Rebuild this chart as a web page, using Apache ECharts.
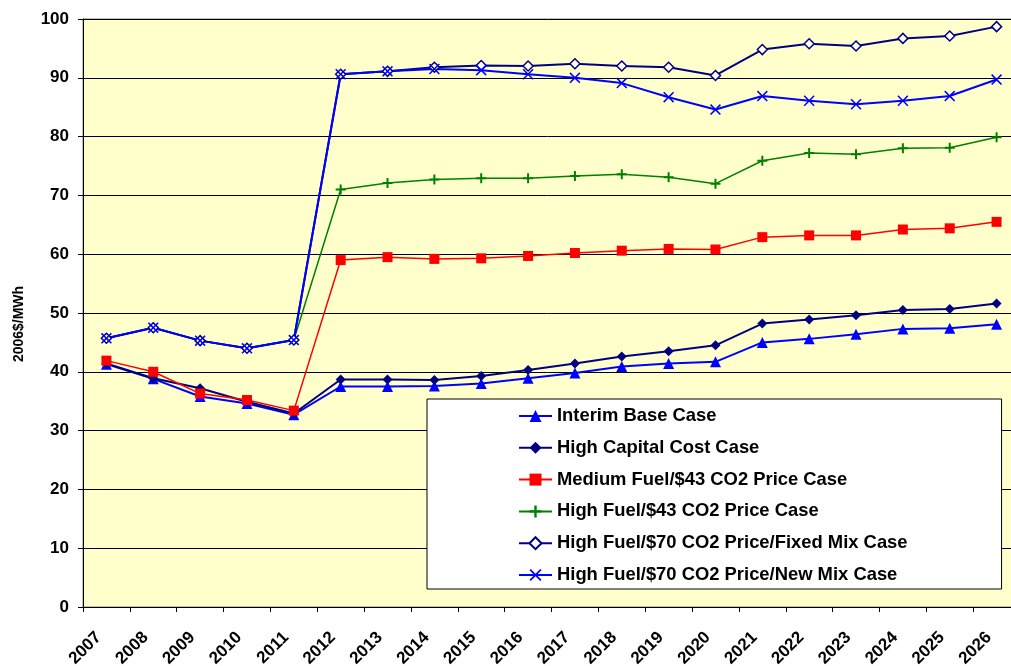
<!DOCTYPE html>
<html>
<head>
<meta charset="utf-8">
<script src="https://cdn.jsdelivr.net/npm/echarts@6/dist/echarts.min.js"></script>
<style>
html,body{margin:0;padding:0;background:#fff;}
#chart{width:1011px;height:666px;}
</style>
</head>
<body>
<div id="chart"></div>
<script>
var categories = ['2007','2008','2009','2010','2011','2012','2013','2014','2015','2016','2017','2018','2019','2020','2021','2022','2023','2024','2025','2026'];
var yTicks = [0,10,20,30,40,50,60,70,80,90,100];

var interimBase = [41.3,38.8,35.8,34.6,32.7,37.5,37.5,37.6,38.0,38.9,39.8,40.9,41.4,41.7,45.0,45.6,46.4,47.3,47.4,48.1];
var highCapital = [41.4,38.9,37.2,34.9,32.9,38.7,38.7,38.6,39.3,40.3,41.4,42.6,43.5,44.5,48.2,48.9,49.6,50.5,50.7,51.6];
var mediumFuel43 = [41.9,40.0,36.3,35.2,33.4,59.0,59.5,59.2,59.3,59.7,60.2,60.6,60.9,60.8,62.9,63.2,63.2,64.2,64.4,65.5];
var highFuel43 = [45.7,47.5,45.3,44.0,45.4,71.0,72.1,72.7,72.9,72.9,73.3,73.6,73.1,72.0,75.9,77.2,77.0,78.0,78.1,79.9];
var highFuel70Fixed = [45.7,47.5,45.3,44.0,45.4,90.6,91.1,91.8,92.1,92.0,92.4,92.0,91.8,90.4,94.8,95.8,95.4,96.7,97.1,98.7];
var highFuel70New = [45.7,47.5,45.3,44.0,45.4,90.6,91.1,91.5,91.3,90.6,90.0,89.1,86.7,84.6,86.9,86.1,85.5,86.1,86.9,89.7];

var seriesNames = [
  'Interim Base Case',
  'High Capital Cost Case',
  'Medium Fuel/$43 CO2 Price Case',
  'High Fuel/$43 CO2 Price Case',
  'High Fuel/$70 CO2 Price/Fixed Mix Case',
  'High Fuel/$70 CO2 Price/New Mix Case'
];

var plusPath = 'path://M4,0H6V4H10V6H6V10H4V6H0V4H4Z';
var crossPath = 'path://M0,1L1,0L5,4L9,0L10,1L6,5L10,9L9,10L5,6L1,10L0,9L4,5Z';

var chart = echarts.init(document.getElementById('chart'));

function mk(name, data, color, symbol, size, lineWidth, itemStyle) {
  return {
    name: name,
    type: 'line',
    data: data,
    symbol: symbol,
    symbolSize: size,
    showSymbol: true,
    lineStyle: { color: color, width: lineWidth },
    itemStyle: itemStyle || { color: color },
    emphasis: { disabled: true },
    animation: false
  };
}

chart.setOption({
  backgroundColor: '#ffffff',
  animation: false,
  grid: {
    left: 83, top: 19, right: -9, bottom: 59,
    outerBoundsMode: 'none',
    containLabel: false,
    show: true,
    backgroundColor: '#FFFFCC',
    borderColor: '#808080',
    borderWidth: 1
  },
  legend: {
    orient: 'vertical',
    left: 427,
    top: 399,
    backgroundColor: '#ffffff',
    borderColor: '#000000',
    borderWidth: 1,
    padding: [8, 94, 5, 91],
    itemWidth: 33,
    itemHeight: 15,
    itemGap: 13.8,
    textStyle: {
      fontFamily: 'Liberation Sans, Arial, sans-serif',
      fontWeight: 'bold',
      fontSize: 18.4,
      lineHeight: 18,
      color: '#000000',
      padding: [0, 0, 0, 0]
    },
    data: seriesNames
  },
  xAxis: {
    type: 'category',
    data: categories,
    boundaryGap: true,
    axisLine: { show: true, lineStyle: { color: '#000000', width: 1 } },
    axisTick: { show: true, length: 5, alignWithLabel: false, lineStyle: { color: '#000000' } },
    axisLabel: {
      interval: 0,
      rotate: 45,
      margin: 20,
      padding: [0, 11, 0, 0],
      fontFamily: 'Liberation Sans, Arial, sans-serif',
      fontWeight: 'bold',
      fontSize: 17,
      color: '#000000'
    },
    splitLine: { show: false }
  },
  yAxis: {
    type: 'value',
    min: yTicks[0],
    max: yTicks[yTicks.length - 1],
    interval: yTicks[1] - yTicks[0],
    name: '2006$/MWh',
    nameLocation: 'middle',
    nameGap: 57,
    nameRotate: 90,
    nameTextStyle: {
      fontFamily: 'Liberation Sans, Arial, sans-serif',
      fontWeight: 'bold',
      fontSize: 14,
      color: '#000000',
      padding: [0, 22, 0, 0]
    },
    axisLine: { show: true, lineStyle: { color: '#000000', width: 1 } },
    axisTick: { show: true, length: 5, lineStyle: { color: '#000000' } },
    axisLabel: {
      margin: 14,
      fontFamily: 'Liberation Sans, Arial, sans-serif',
      fontWeight: 'bold',
      fontSize: 17,
      color: '#000000'
    },
    splitLine: { show: true, lineStyle: { color: '#000000', width: 1 } }
  },
  series: [
    mk(seriesNames[0], interimBase, '#0000FF', 'triangle', 11, 2),
    mk(seriesNames[1], highCapital, '#000080', 'diamond', 10, 2),
    mk(seriesNames[2], mediumFuel43, '#FF0000', 'rect', 10, 1.5),
    mk(seriesNames[3], highFuel43, '#008000', plusPath, 10, 1.5),
    mk(seriesNames[4], highFuel70Fixed, '#000080', 'diamond', 10, 2,
       { color: '#ffffff', borderColor: '#000080', borderWidth: 1.5 }),
    mk(seriesNames[5], highFuel70New, '#0000FF', crossPath, 11, 2)
  ]
});
</script>
</body>
</html>
